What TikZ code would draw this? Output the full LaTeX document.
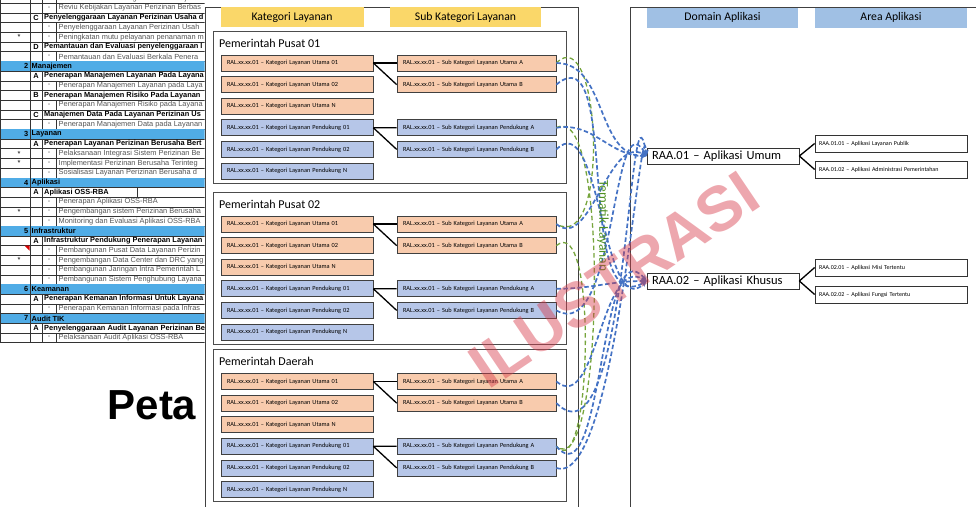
\documentclass[tikz,border=0pt]{standalone}
\usepackage{fontspec}
\setmainfont{Carlito}
\newfontfamily\arialfont{Liberation Sans}
\usetikzlibrary{arrows.meta}

\definecolor{katorange}{RGB}{248,203,173}
\definecolor{katblue}{RGB}{182,198,232}
\definecolor{headyellow}{RGB}{250,215,105}
\definecolor{headblue}{RGB}{160,192,228}
\definecolor{linkblue}{RGB}{68,114,196}
\definecolor{linkgreen}{RGB}{118,165,60}
\definecolor{temagreen}{RGB}{80,145,35}
\definecolor{tabblue}{RGB}{80,172,230}
\definecolor{tabgrey}{RGB}{85,85,85}
\definecolor{wmred}{RGB}{215,60,75}

\tikzset{
  katbox/.style={draw=black!75, line width=0.7pt, minimum height=16pt, inner xsep=6pt, inner ysep=0pt, text width=140pt, align=left, font=\fontsize{6.3}{7}\selectfont},
  subbox/.style={katbox, text width=147pt},
  headbar/.style={minimum height=20pt, inner sep=0pt, font=\fontsize{11.7}{13}\selectfont},
  grptitle/.style={anchor=west, inner sep=0pt, font=\fontsize{12}{14}\selectfont},
  grpframe/.style={draw=black!70, line width=1pt},
  panel/.style={draw=black!75, line width=1pt},
  fork/.style={line width=1.3pt},
  domainbox/.style={draw=black!80, fill=white, line width=0.7pt, minimum height=16pt, inner xsep=5pt, inner ysep=0pt, text width=142pt, align=left, font=\fontsize{12.5}{14}\selectfont},
  areabox/.style={draw=black!80, fill=white, line width=0.7pt, minimum height=17pt, inner xsep=4pt, inner ysep=0pt, text width=144pt, align=left, font=\fontsize{6}{7}\selectfont},
  bluelink/.style={linkblue, line width=1.7pt, dash pattern=on 4.5pt off 2.5pt, -{Stealth[length=6pt,width=5pt]}},
  greenlink/.style={linkgreen, line width=1.3pt, dash pattern=on 4.5pt off 3pt},
  tabline/.style={draw=black!80, line width=0.5pt},
  tabtxt/.style={anchor=west, inner sep=0pt, font=\arialfont\fontsize{7.4}{8}\selectfont},
  tabbold/.style={tabtxt, font=\arialfont\bfseries\fontsize{7.4}{8}\selectfont},
}

\begin{document}
\begin{tikzpicture}[x=1pt,y=-1pt]
	\useasboundingbox (0,0) rectangle (977,506);
	
	% tabel kiri
	\begin{scope}
	\clip (0,0) rectangle (204.5,344);
	\foreach \t/\a/\b/\txt [count=\i from -1] in {
		3/{}/-/Sosialisasi dan Bimbingan Teknis Kebijakan,
		3/{}/-/Reviu Kebijakan Layanan Perizinan Berbas,
		2/{}/C/Penyelenggaraan Layanan Perizinan Usaha d,
		3/{}/-/Penyelenggaraan Layanan Perizinan Usah,
		3/*/-/Peningkatan mutu pelayanan penanaman m,
		2/{}/D/Pemantauan dan Evaluasi penyelenggaraan l,
		3/{}/-/Pemantauan dan Evaluasi Berkala Penera,
		1/2/{}/Manajemen,
		2/{}/A/Penerapan Manajemen Layanan Pada Layana,
		3/{}/-/Penerapan Manajemen Layanan pada Laya,
		2/{}/B/Penerapan Manajemen Risiko Pada Layanan,
		3/{}/-/Penerapan Manajemen Risiko pada Layana,
		2/{}/C/Manajemen Data Pada Layanan Perizinan Us,
		3/{}/-/Penerapan Manajemen Data pada Layanan,
		1/3/{}/Layanan,
		2/{}/A/Penerapan Layanan Perizinan Berusaha Bert,
		3/*/-/Pelaksanaan Integrasi Sistem Perizinan Be,
		3/*/-/Implementasi Perizinan Berusaha Terinteg,
		3/{}/-/Sosialisasi Layanan Perizinan Berusaha d,
		1/4/{}/Aplikasi,
		2/{}/A/Aplikasi OSS-RBA,
		3/{}/-/Penerapan Aplikasi OSS-RBA,
		3/*/-/Pengembangan sistem Perizinan Berusaha,
		3/{}/-/Monitoring dan Evaluasi Aplikasi OSS-RBA,
		1/5/{}/Infrastruktur,
		2/{}/A/Infrastruktur Pendukung Penerapan Layanan,
		3/{}/-/Pembangunan Pusat Data Layanan Perizin,
		3/*/-/Pengembangan Data Center dan DRC yang,
		3/{}/-/Pembangunan Jaringan Intra Pemerintah L,
		3/{}/-/Pembangunan Sistem Penghubung Layana,
		1/6/{}/Keamanan,
		2/{}/A/Penerapan Kemanan Informasi Untuk Layana,
		3/{}/-/Penerapan Kemanan Informasi pada Infras,
		1/7/{}/Audit TIK,
		2/{}/A/Penyelenggaraan Audit Layanan Perizinan Be,
		3/{}/-/Pelaksanaan Audit Aplikasi OSS-RBA}{
		\pgfmathsetmacro\ry{8+9.7*\i}
		\ifcase\t\relax\or
			\fill[tabblue] (0,\ry-4.85) rectangle (205,\ry+4.85);
			\draw[tabline] (30,\ry-4.85) -- (30,\ry+4.85);
			\node[tabbold, anchor=east] (no\i) at (28.5,\ry) {\a};
			\node[tabbold] (baris\i) at (31.5,\ry) {\txt};
		\or
			\draw[tabline] (30,\ry-4.85) -- (30,\ry+4.85) (42,\ry-4.85) -- (42,\ry+4.85);
			\node[tabbold, anchor=center] (no\i) at (36,\ry) {\b};
			\node[tabbold] (baris\i) at (44,\ry) {\txt};
		\or
			\draw[tabline] (30,\ry-4.85) -- (30,\ry+4.85) (42,\ry-4.85) -- (42,\ry+4.85) (56,\ry-4.85) -- (56,\ry+4.85);
			\node[tabtxt, anchor=center] (bt\i) at (19,\ry) {\a};
			\node[tabtxt, anchor=center, text=tabgrey] (no\i) at (49,\ry) {\b};
			\node[tabtxt, text=tabgrey] (baris\i) at (58.5,\ry) {\txt};
		\fi
		\draw[tabline] (0,\ry+4.85) -- (205,\ry+4.85);
	}
	\draw[tabline] (0.5,0) -- (0.5,342.7);
	\draw[tabline] (137,187.45) -- (137,197.15);
	\fill[red!85!black] (24.5,245.7) -- (29.5,245.7) -- (29.5,250.7) -- cycle;
	\end{scope}
	
	\node[anchor=base, inner sep=0pt, font=\arialfont\bfseries\fontsize{42}{42}\selectfont] (peta) at (152,419) {Peta};
	
	% panel kategori
	\draw[panel] (205,7) rectangle (578,520);
	\node[headbar, fill=headyellow, minimum width=143pt] (hkat) at (292,17) {Kategori Layanan};
	\node[headbar, fill=headyellow, minimum width=151pt] (hsub) at (465.5,17) {Sub Kategori Layanan};
	
	\foreach \g/\yo/\judul in {1/63/Pemerintah Pusat 01, 2/224/Pemerintah Pusat 02, 3/381.5/Pemerintah Daerah}{
		\draw[grpframe] (213,\yo-32) rectangle (566,\yo+120);
		\node[grptitle] (judul\g) at (219,\yo-20) {\judul};
		\foreach \n/\warna [count=\i from 0] in {Utama 01/katorange, Utama 02/katorange, Utama N/katorange, Pendukung 01/katblue, Pendukung 02/katblue, Pendukung N/katblue}
			\node[katbox, fill=\warna] (k\g-\i) at (297,\yo+21.6*\i) {RAL.xx.xx.01 – Kategori Layanan \n};
		\node[subbox, fill=katorange] (s\g-a) at (476.5,\yo) {RAL.xx.xx.01 – Sub Kategori Layanan Utama A};
		\node[subbox, fill=katorange] (s\g-b) at (476.5,\yo+21.6) {RAL.xx.xx.01 – Sub Kategori Layanan Utama B};
		\node[subbox, fill=katblue] (s\g-pa) at (476.5,\yo+64.8) {RAL.xx.xx.01 – Sub Kategori Layanan Pendukung A};
		\node[subbox, fill=katblue] (s\g-pb) at (476.5,\yo+86.4) {RAL.xx.xx.01 – Sub Kategori Layanan Pendukung B};
		\draw[fork] (k\g-0.east) -- (s\g-a.west);
		\draw[fork] (k\g-0.east) -- (s\g-b.west);
		\draw[fork] (k\g-3.east) -- (s\g-pa.west);
		\draw[fork] (k\g-3.east) -- (s\g-pb.west);
	}
	
	% panel aplikasi
	\draw[panel] (630,7) -- (630,520) (630,7) -- (976,7);
	\node[headbar, fill=headblue, minimum width=151pt] (hdom) at (722.5,17.5) {Domain Aplikasi};
	\node[headbar, fill=headblue, minimum width=152pt] (harea) at (891,17.5) {Area Aplikasi};
	
	\node[domainbox] (raa1) at (723,156) {RAA.01 – Aplikasi Umum};
	\node[domainbox] (raa2) at (723,281) {RAA.02 – Aplikasi Khusus};
	\node[areabox] (raa11) at (891,143.5) {RAA.01.01 – Aplikasi Layanan Publik};
	\node[areabox] (raa12) at (891,169.5) {RAA.01.02 – Aplikasi Administrasi Pemerintahan};
	\node[areabox] (raa21) at (891,267.5) {RAA.02.01 – Aplikasi Misi Tertentu};
	\node[areabox] (raa22) at (891,294.5) {RAA.02.02 – Aplikasi Fungsi Tertentu};
	\draw[fork] (raa1.east) -- (raa11.west);
	\draw[fork] (raa1.east) -- (raa12.west);
	\draw[fork] (raa2.east) -- (raa21.west);
	\draw[fork] (raa2.east) -- (raa22.west);
	
	% keterkaitan tematik
	\draw[greenlink] (s1-a.east) to[out=45,in=-30] (s2-a.east);
	\draw[greenlink] (s1-pa.east) to[out=30,in=-40,looseness=0.5] (s3-pa.east);
	\draw[greenlink] (s2-b.east) to[out=40,in=-50,looseness=0.7] (s3-pa.east);
	
	\draw[bluelink] (s1-a.east) to[out=0,in=180] (raa1.west);
	\draw[bluelink] (s1-b.east) to[out=40,in=-150] (raa2.west);
	\draw[bluelink] (s1-pa.east) to[out=10,in=180] (raa1.west);
	\draw[bluelink] (s1-pb.east) to[out=45,in=-135] (raa2.west);
	\draw[bluelink] (s2-a.east) to[out=-40,in=150] (raa1.west);
	\draw[bluelink] (s2-pa.east) to[out=0,in=180] (raa2.west);
	\draw[bluelink] (s2-pb.east) to[out=-30,in=120] (raa1.west);
	\draw[bluelink] (s3-a.east) to[out=-40,in=150] (raa2.west);
	\draw[bluelink] (s3-b.east) to[out=-45,in=100] (raa1.west);
	\draw[bluelink] (s3-pa.east) to[out=-50,in=130] (raa2.west);
	\draw[bluelink] (s3-pb.east) to[out=-20,in=95,looseness=0.5] (raa1.west);
	
	\node[rotate=-90, text=temagreen, inner sep=0pt, font=\fontsize{13.5}{15}\selectfont] (tematik) at (603,226) {Tematik Layanan};
	
	\node[rotate=34, text=wmred, opacity=0.45, inner sep=0pt, font=\arialfont\bfseries\fontsize{63}{63}\selectfont] (ilustrasi) at (614,280) {ILUSTRASI};
	
\end{tikzpicture}
\end{document}
